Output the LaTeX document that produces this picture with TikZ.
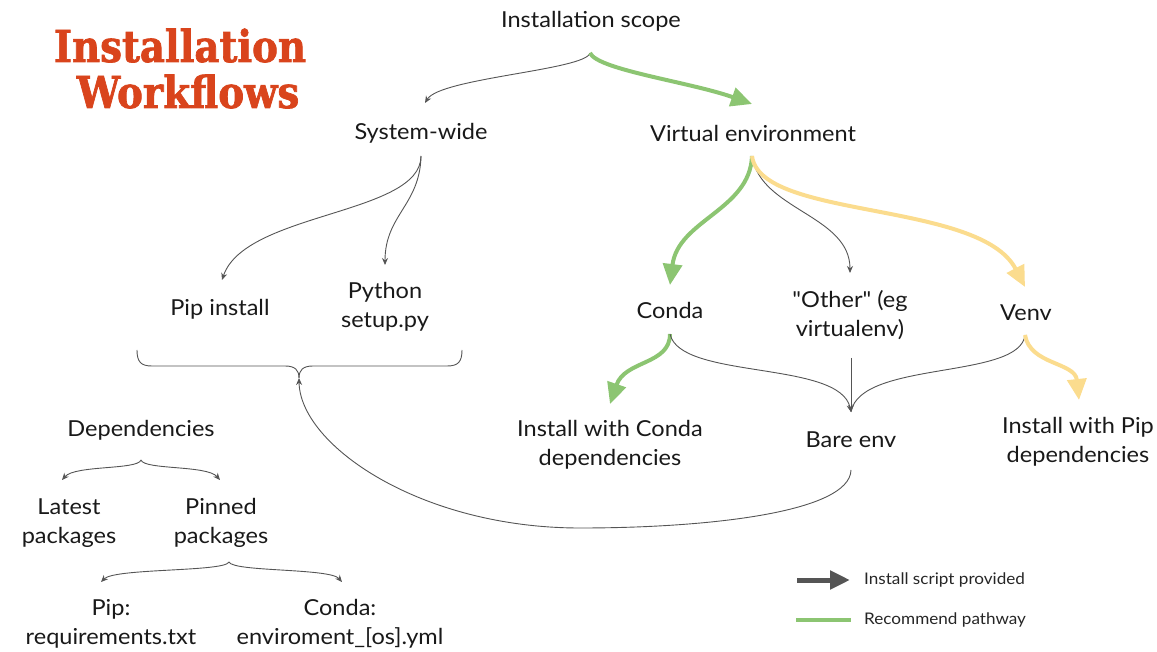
\documentclass[tikz,border=0pt]{standalone}
\usepackage{fontspec}
\setmainfont[FakeStretch=1.07,Ligatures=TeXOff]{Lato}
\newfontfamily\titlefont[FakeStretch=0.88,FakeBold=1.6]{DejaVu Serif}
\usetikzlibrary{arrows.meta}
\definecolor{grayline}{HTML}{555555}
\definecolor{greenline}{HTML}{8CC572}
\definecolor{yellowline}{HTML}{FBDC8E}
\definecolor{titlered}{HTML}{D9441C}
\begin{document}
\begin{tikzpicture}[x=1pt,y=-1pt,
  lbl/.style={align=center,inner sep=0pt,font=\fontsize{22}{29}\selectfont,text=black!90},
  smallarrow/.style={draw=grayline,line width=0.9pt,-{Stealth[length=7pt,width=6pt]}},
  plainline/.style={draw=grayline,line width=0.9pt},
  greenarrow/.style={draw=greenline,line width=4pt,-{Triangle[length=21pt,width=19pt]}},
  yellowarrow/.style={draw=yellowline,line width=4pt,-{Triangle[length=21pt,width=19pt]}},
  legtext/.style={anchor=west,inner sep=0pt,font=\fontsize{16}{19}\selectfont,text=black!85}]
\useasboundingbox (0,0) rectangle (1157,652);
% title
\node[anchor=base,inner sep=0pt,text=titlered,font=\titlefont\bfseries\fontsize{44}{46}\selectfont] (t1) at (180,62) {Installation};
\node[anchor=base,inner sep=0pt,text=titlered,font=\titlefont\bfseries\fontsize{44}{46}\selectfont] (t2) at (188,108) {Workflows};
% nodes
\node[lbl] (scope) at (591,21) {Installation scope};
\node[lbl] (sys) at (421,133) {System-wide};
\node[lbl] (venvroot) at (753,133) {Virtual environment};
\node[lbl] (pip) at (220,309) {Pip install};
\node[lbl] (setup) at (385,307) {Python\\setup.py};
\node[lbl] (conda) at (670,310) {Conda};
\node[lbl] (other) at (850,315) {"Other" (eg\\virtualenv)};
\node[lbl] (venv) at (1026,313) {Venv};
\node[lbl] (instconda) at (610,445) {Install with Conda\\dependencies};
\node[lbl] (bare) at (851,440) {Bare env};
\node[lbl] (instpip) at (1078,442) {Install with Pip\\dependencies};
\node[lbl] (deps) at (141,430) {Dependencies};
\node[lbl] (latest) at (69,523) {Latest\\packages};
\node[lbl] (pinned) at (221,523) {Pinned\\packages};
\node[lbl] (reqs) at (111,624) {Pip:\\requirements.txt};
\node[lbl] (envyml) at (340,624) {Conda:\\enviroment\_[os].yml};
% anchor coordinates
\coordinate (scopeb) at (590,53);
\coordinate (sysb) at (421,156);
\coordinate (vb) at (752,156);
\coordinate (condab) at (670,334);
\coordinate (otherb) at (851,358);
\coordinate (venvb) at (1025,335);
\coordinate (bareb) at (851,470);
\coordinate (baret) at (851,412);
\coordinate (bracetip) at (299,378);
\coordinate (depsb) at (141,460);
\coordinate (pinnedb) at (229,562);
% connectors top
\draw[smallarrow] (scopeb) .. controls (586,70) and (440,78) .. (425,103);
\draw[greenarrow] (scopeb) .. controls (598,70) and (690,82) .. (752,104);
\draw[smallarrow] (sysb) .. controls (421,215) and (245,212) .. (222,280);
\draw[smallarrow] (sysb) .. controls (420,205) and (385,215) .. (385,265);
\draw[greenarrow] (vb) .. controls (750,210) and (678,220) .. (670,285);
\draw[smallarrow] (vb) .. controls (760,210) and (850,215) .. (850,273);
\draw[yellowarrow] (vb) .. controls (760,220) and (980,200) .. (1025,287);
\draw[greenarrow] (condab) .. controls (670,365) and (625,360) .. (610,404);
\draw[smallarrow] (condab) .. controls (680,380) and (840,360) .. (baret);
\draw[smallarrow] (otherb) -- (baret);
\draw[plainline] (venvb) .. controls (1020,380) and (860,360) .. (baret);
\draw[yellowarrow] (venvb) .. controls (1030,365) and (1075,362) .. (1079,400);
% brace under pip/setup
\draw[plainline] (137,350) .. controls (137,362) and (141,366) .. (152,366) -- (285,366) .. controls (295,366) and (299,370) .. (bracetip);
\draw[plainline] (462,350) .. controls (462,362) and (458,366) .. (447,366) -- (313,366) .. controls (303,366) and (299,370) .. (bracetip);
% bare env back to brace
\draw[smallarrow] (bareb) .. controls (850,512) and (710,528) .. (580,528) .. controls (420,528) and (300,445) .. (bracetip);
% dependency braces
\draw[smallarrow] (depsb) .. controls (138,470) and (75,465) .. (62,480);
\draw[smallarrow] (depsb) .. controls (144,470) and (207,465) .. (220,480);
\draw[smallarrow] (pinnedb) .. controls (225,572) and (115,568) .. (101,582);
\draw[smallarrow] (pinnedb) .. controls (233,572) and (330,568) .. (342,582);
% legend
\coordinate (la1) at (797,580);
\coordinate (la2) at (850,580);
\coordinate (lg1) at (796,620);
\coordinate (lg2) at (851,620);
\draw[draw=grayline,line width=5pt,-{Triangle[length=20pt,width=18pt]}] (la1) -- (la2);
\draw[draw=greenline,line width=4pt] (lg1) -- (lg2);
\node[legtext] (leg1) at (864,580) {Install script provided};
\node[legtext] (leg2) at (864,620) {Recommend pathway};
\end{tikzpicture}
\end{document}
